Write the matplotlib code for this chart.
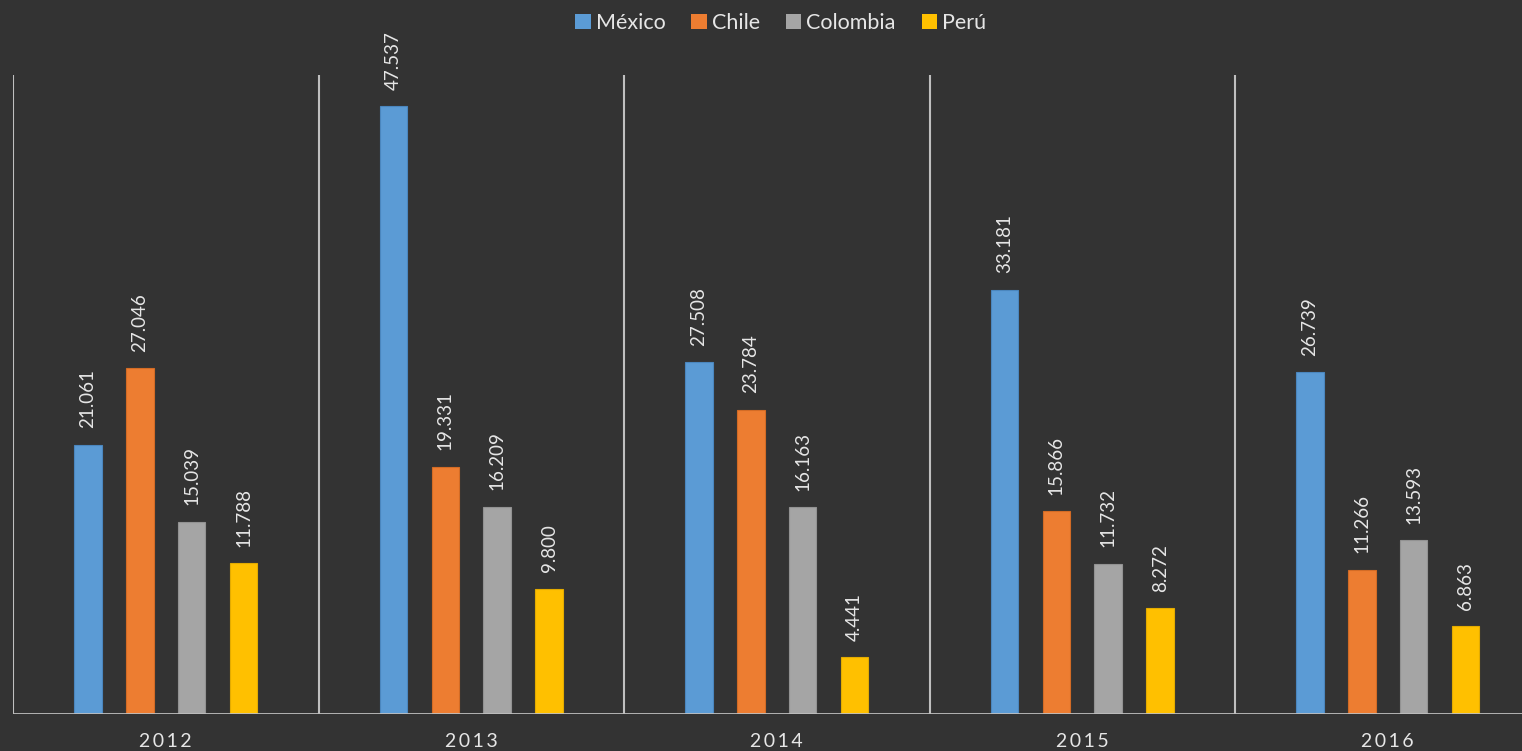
import matplotlib.pyplot as plt
import numpy as np
from matplotlib.patches import Patch

years = ["2012", "2013", "2014", "2015", "2016"]
countries = ["México", "Chile", "Colombia", "Perú"]
mexico = [21061, 47537, 27508, 33181, 26739]
chile = [27046, 19331, 23784, 15866, 11266]
colombia = [15039, 16209, 16163, 11732, 13593]
peru = [11788, 9800, 4441, 8272, 6863]

colors = ["#5B9BD5", "#ED7D31", "#A5A5A5", "#FFC000"]
edges = ["#4A86BE", "#D36B25", "#929292", "#E3AB00"]
BG = "#333333"
TXT = "#E6E6E6"
LINE = "#BFBFBF"
FONT = ["Lato", "DejaVu Sans"]

plt.rcParams["font.family"] = FONT

fig = plt.figure(figsize=(15.22, 7.51), dpi=100, facecolor=BG)
# plot area runs past the right edge, as in the reference
ax = fig.add_axes([13 / 1522, 37 / 751, 1527.5 / 1522, 639 / 751])
ax.set_facecolor(BG)

x = np.arange(len(years))
pitch = 0.170
width = 0.09
series = [mexico, chile, colombia, peru]
for i, vals in enumerate(series):
    pos = x + (i - 1.5) * pitch
    bars = ax.bar(pos, vals, width=width, color=colors[i], edgecolor=edges[i],
                  linewidth=0.8, zorder=3)
    for b, v in zip(bars, vals):
        label = f"{v:,}".replace(",", ".")
        ax.annotate(label, (b.get_x() + b.get_width() / 2, v),
                    xytext=(0, 12), textcoords="offset points",
                    rotation=90, ha="center", va="bottom",
                    color=TXT, fontsize=13.5)

ax.set_xlim(-0.5, len(years) - 0.5)
ax.set_ylim(0, 50000)

for sep in np.arange(-0.5, len(years), 1.0):
    ax.axvline(sep, color=LINE, linewidth=1.5, zorder=2)
ax.axhline(0, color=LINE, linewidth=2, zorder=4)

for s in ax.spines.values():
    s.set_visible(False)
ax.set_yticks([])
ax.set_xticks(x)
ax.set_xticklabels(["\u2009".join(y) for y in years], color=TXT, fontsize=14)
ax.tick_params(axis="x", length=0, pad=14)

handles = [Patch(facecolor=c, edgecolor="none") for c in colors]
fig.legend(handles, countries, loc="upper center", bbox_to_anchor=(0.513, 1.008),
           ncol=4, frameon=False, fontsize=15.5, labelcolor=TXT,
           handlelength=0.7, handleheight=0.7, handletextpad=0.25,
           columnspacing=1.2)

fig.savefig("out.png", dpi=100, facecolor=BG)
